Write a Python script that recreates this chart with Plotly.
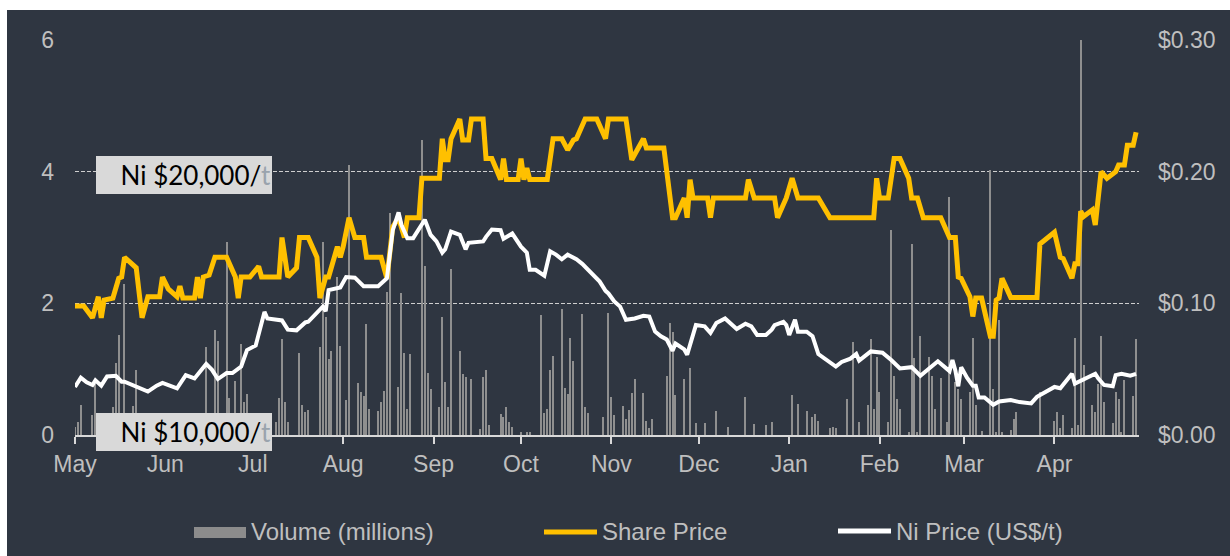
import plotly.graph_objects as go

# ---------------- data ----------------
month_ticks = ["2019-05-01", "2019-06-01", "2019-07-01", "2019-08-01", "2019-09-01", "2019-10-01",
               "2019-11-01", "2019-12-01", "2020-01-01", "2020-02-01", "2020-03-01", "2020-04-01"]
month_labels = ["May", "Jun", "Jul", "Aug", "Sep", "Oct", "Nov", "Dec", "Jan", "Feb", "Mar", "Apr"]
left_ticks = [0, 2, 4, 6]
right_ticks = [0.0, 0.1, 0.2, 0.3]
right_labels = ["$0.00", "$0.10", "$0.20", "$0.30"]

share_dates = [
    "2019-05-01", "2019-05-04", "2019-05-07", "2019-05-09", "2019-05-10", "2019-05-11", "2019-05-14",
    "2019-05-16", "2019-05-17", "2019-05-18", "2019-05-22", "2019-05-23", "2019-05-24", "2019-05-26",
    "2019-05-30", "2019-05-31", "2019-06-02", "2019-06-05", "2019-06-06", "2019-06-07", "2019-06-11",
    "2019-06-12", "2019-06-13", "2019-06-14", "2019-06-16", "2019-06-18", "2019-06-22", "2019-06-25",
    "2019-06-26", "2019-06-27", "2019-06-30", "2019-07-03", "2019-07-04", "2019-07-10", "2019-07-11",
    "2019-07-13", "2019-07-16", "2019-07-17", "2019-07-20", "2019-07-23", "2019-07-24", "2019-07-26",
    "2019-07-27", "2019-07-30", "2019-07-31", "2019-08-01", "2019-08-03", "2019-08-05", "2019-08-08",
    "2019-08-09", "2019-08-14", "2019-08-16", "2019-08-18", "2019-08-20", "2019-08-22", "2019-08-23",
    "2019-08-27", "2019-08-28", "2019-09-03", "2019-09-04", "2019-09-05", "2019-09-06", "2019-09-07",
    "2019-09-08", "2019-09-10", "2019-09-11", "2019-09-13", "2019-09-14", "2019-09-18", "2019-09-19",
    "2019-09-21", "2019-09-24", "2019-09-25", "2019-09-26", "2019-09-30", "2019-10-01", "2019-10-02",
    "2019-10-03", "2019-10-04", "2019-10-10", "2019-10-12", "2019-10-15", "2019-10-17", "2019-10-19",
    "2019-10-20", "2019-10-23", "2019-10-27", "2019-10-30", "2019-10-31", "2019-11-06", "2019-11-08",
    "2019-11-12", "2019-11-13", "2019-11-19", "2019-11-22", "2019-11-23", "2019-11-26", "2019-11-27",
    "2019-11-28", "2019-11-29", "2019-12-04", "2019-12-05", "2019-12-06", "2019-12-17", "2019-12-18",
    "2019-12-20", "2019-12-27", "2019-12-28", "2019-12-31", "2020-01-02", "2020-01-04", "2020-01-11",
    "2020-01-15", "2020-01-30", "2020-01-31", "2020-02-01", "2020-02-04", "2020-02-06", "2020-02-08",
    "2020-02-11", "2020-02-12", "2020-02-14", "2020-02-16", "2020-02-22", "2020-02-25", "2020-02-27",
    "2020-02-28", "2020-02-29", "2020-03-03", "2020-03-04", "2020-03-05", "2020-03-07", "2020-03-10",
    "2020-03-11", "2020-03-12", "2020-03-13", "2020-03-14", "2020-03-17", "2020-03-26", "2020-03-27",
    "2020-04-01", "2020-04-03", "2020-04-04", "2020-04-07", "2020-04-08", "2020-04-09", "2020-04-10",
    "2020-04-11", "2020-04-14", "2020-04-15", "2020-04-17", "2020-04-19", "2020-04-22", "2020-04-23",
    "2020-04-25", "2020-04-26", "2020-04-28", "2020-04-29"]
share_price = [
    0.098, 0.098, 0.089, 0.105, 0.089, 0.1025, 0.104,
    0.119, 0.120, 0.135, 0.127, 0.104, 0.089, 0.105,
    0.105, 0.120, 0.111, 0.105, 0.113, 0.104, 0.104,
    0.120, 0.104, 0.120, 0.1215, 0.135, 0.135, 0.120,
    0.104, 0.120, 0.120, 0.128, 0.120, 0.120, 0.150,
    0.120, 0.127, 0.150, 0.150, 0.135, 0.104, 0.120,
    0.120, 0.143, 0.135, 0.143, 0.165, 0.150, 0.150,
    0.135, 0.135, 0.119, 0.158, 0.165, 0.150, 0.165,
    0.165, 0.195, 0.195, 0.225, 0.209, 0.209, 0.225,
    0.230, 0.240, 0.224, 0.224, 0.240, 0.240, 0.210,
    0.210, 0.194, 0.210, 0.194, 0.194, 0.210, 0.194,
    0.2026, 0.194, 0.194, 0.225, 0.225, 0.2165, 0.224,
    0.225, 0.240, 0.240, 0.225, 0.240, 0.240, 0.209,
    0.225, 0.218, 0.218, 0.165, 0.165, 0.180, 0.165,
    0.194, 0.180, 0.180, 0.165, 0.180, 0.180, 0.194,
    0.180, 0.180, 0.165, 0.180, 0.195, 0.180, 0.180,
    0.165, 0.165, 0.195, 0.180, 0.180, 0.210, 0.210,
    0.195, 0.180, 0.180, 0.165, 0.165, 0.150, 0.150,
    0.120, 0.119, 0.105, 0.090, 0.104, 0.104, 0.075,
    0.075, 0.1025, 0.104, 0.119, 0.1045, 0.1045, 0.145,
    0.154, 0.135, 0.134, 0.119, 0.130, 0.130, 0.170,
    0.166, 0.171, 0.1595, 0.200, 0.195, 0.200, 0.205,
    0.205, 0.220, 0.220, 0.230]

ni_dates = [
    "2019-05-01", "2019-05-03", "2019-05-05", "2019-05-07", "2019-05-08", "2019-05-10", "2019-05-12",
    "2019-05-15", "2019-05-17", "2019-05-18", "2019-05-26", "2019-05-29", "2019-05-31", "2019-06-05",
    "2019-06-08", "2019-06-11", "2019-06-15", "2019-06-17", "2019-06-19", "2019-06-22", "2019-06-24",
    "2019-06-27", "2019-06-29", "2019-07-01", "2019-07-02", "2019-07-05", "2019-07-06", "2019-07-11",
    "2019-07-13", "2019-07-16", "2019-07-19", "2019-07-20", "2019-07-22", "2019-07-25", "2019-07-26",
    "2019-07-27", "2019-07-31", "2019-08-02", "2019-08-05", "2019-08-08", "2019-08-13", "2019-08-16",
    "2019-08-18", "2019-08-20", "2019-08-21", "2019-08-23", "2019-08-25", "2019-08-29", "2019-08-31",
    "2019-09-02", "2019-09-04", "2019-09-05", "2019-09-07", "2019-09-10", "2019-09-12", "2019-09-13",
    "2019-09-18", "2019-09-19", "2019-09-21", "2019-09-24", "2019-09-25", "2019-09-28", "2019-10-01",
    "2019-10-03", "2019-10-04", "2019-10-06", "2019-10-09", "2019-10-11", "2019-10-13", "2019-10-15",
    "2019-10-17", "2019-10-20", "2019-10-22", "2019-10-24", "2019-10-25", "2019-10-28", "2019-10-30",
    "2019-10-31", "2019-11-02", "2019-11-04", "2019-11-06", "2019-11-09", "2019-11-12", "2019-11-14",
    "2019-11-16", "2019-11-18", "2019-11-20", "2019-11-22", "2019-11-23", "2019-11-26", "2019-11-27",
    "2019-11-29", "2019-11-30", "2019-12-03", "2019-12-05", "2019-12-07", "2019-12-10", "2019-12-14",
    "2019-12-17", "2019-12-19", "2019-12-21", "2019-12-24", "2019-12-26", "2019-12-27", "2019-12-30",
    "2019-12-31", "2020-01-01", "2020-01-03", "2020-01-04", "2020-01-07", "2020-01-09", "2020-01-11",
    "2020-01-15", "2020-01-17", "2020-01-19", "2020-01-22", "2020-01-24", "2020-01-25", "2020-01-29",
    "2020-02-02", "2020-02-05", "2020-02-08", "2020-02-12", "2020-02-13", "2020-02-15", "2020-02-18",
    "2020-02-21", "2020-02-25", "2020-02-26", "2020-02-27", "2020-02-28", "2020-02-29", "2020-03-02",
    "2020-03-04", "2020-03-05", "2020-03-06", "2020-03-08", "2020-03-11", "2020-03-13", "2020-03-17",
    "2020-03-20", "2020-03-24", "2020-03-26", "2020-03-28", "2020-04-01", "2020-04-03", "2020-04-05",
    "2020-04-07", "2020-04-08", "2020-04-11", "2020-04-15", "2020-04-16", "2020-04-18", "2020-04-21",
    "2020-04-22", "2020-04-24", "2020-04-27", "2020-04-29"]
ni_price = [
    11825, 12175, 12000, 11900, 12075, 11875, 12225,
    12250, 12025, 12025, 11650, 11875, 11975, 11775,
    12275, 12150, 12700, 12475, 12125, 12350, 12350,
    12600, 13225, 13350, 13400, 14675, 14425, 14350,
    14000, 13975, 14275, 14300, 14550, 14875, 14700,
    15500, 15600, 16000, 15975, 15650, 15650, 15950,
    17775, 18450, 17975, 17475, 17475, 18175, 17600,
    17350, 16925, 17050, 17725, 17600, 17050, 17300,
    17350, 17525, 17800, 17775, 17450, 17650, 17150,
    16925, 16275, 16275, 16050, 16975, 16850, 16675,
    16850, 16675, 16500, 16275, 16200, 15825, 15475,
    15375, 15075, 14875, 14375, 14425, 14525, 14500,
    13925, 13750, 13625, 13200, 13475, 13250, 13050,
    13750, 14175, 14125, 13875, 14250, 14425, 14025,
    14225, 14125, 13800, 13800, 14000, 14175, 14300,
    14175, 13800, 14375, 13925, 13925, 13750, 13075,
    12775, 12600, 12775, 12900, 13075, 12825, 13175,
    13125, 12850, 12525, 12575, 12450, 12250, 12525,
    12800, 12425, 12850, 12450, 11850, 12575, 12175,
    11875, 11875, 11425, 11425, 11150, 11275, 11325,
    11250, 11200, 11450, 11575, 11825, 11775, 12025,
    12325, 11950, 12100, 12325, 12150, 11900, 11850,
    12275, 12325, 12250, 12325]

vol_dates = [
    "2019-05-01", "2019-05-02", "2019-05-03", "2019-05-07", "2019-05-08", "2019-05-09", "2019-05-14",
    "2019-05-15", "2019-05-16", "2019-05-18", "2019-05-20", "2019-05-21", "2019-05-22", "2019-05-23",
    "2019-05-24", "2019-05-28", "2019-05-29", "2019-05-31", "2019-06-03", "2019-06-04", "2019-06-06",
    "2019-06-10", "2019-06-12", "2019-06-15", "2019-06-18", "2019-06-19", "2019-06-22", "2019-06-23",
    "2019-06-25", "2019-06-27", "2019-06-28", "2019-06-29", "2019-07-03", "2019-07-05", "2019-07-09",
    "2019-07-10", "2019-07-11", "2019-07-12", "2019-07-13", "2019-07-17", "2019-07-18", "2019-07-19",
    "2019-07-20", "2019-07-24", "2019-07-25", "2019-07-26", "2019-07-27", "2019-07-28", "2019-07-30",
    "2019-07-31", "2019-08-02", "2019-08-03", "2019-08-06", "2019-08-07", "2019-08-08", "2019-08-09",
    "2019-08-10", "2019-08-13", "2019-08-14", "2019-08-15", "2019-08-16", "2019-08-17", "2019-08-20",
    "2019-08-21", "2019-08-22", "2019-08-23", "2019-08-24", "2019-08-28", "2019-08-29", "2019-08-30",
    "2019-08-31", "2019-09-03", "2019-09-04", "2019-09-05", "2019-09-06", "2019-09-07", "2019-09-10",
    "2019-09-11", "2019-09-12", "2019-09-14", "2019-09-17", "2019-09-18", "2019-09-19", "2019-09-20",
    "2019-09-24", "2019-09-25", "2019-09-26", "2019-09-27", "2019-09-28", "2019-10-01", "2019-10-03",
    "2019-10-04", "2019-10-08", "2019-10-09", "2019-10-10", "2019-10-11", "2019-10-12", "2019-10-15",
    "2019-10-16", "2019-10-17", "2019-10-18", "2019-10-19", "2019-10-22", "2019-10-23", "2019-10-24",
    "2019-10-29", "2019-10-31", "2019-11-01", "2019-11-02", "2019-11-05", "2019-11-06", "2019-11-07",
    "2019-11-08", "2019-11-09", "2019-11-12", "2019-11-13", "2019-11-14", "2019-11-15", "2019-11-20",
    "2019-11-21", "2019-11-22", "2019-11-23", "2019-11-26", "2019-11-28", "2019-11-30", "2019-12-03",
    "2019-12-07", "2019-12-11", "2019-12-17", "2019-12-20", "2019-12-24", "2019-12-26", "2020-01-02",
    "2020-01-04", "2020-01-07", "2020-01-09", "2020-01-10", "2020-01-11", "2020-01-15", "2020-01-16",
    "2020-01-17", "2020-01-21", "2020-01-23", "2020-01-25", "2020-01-28", "2020-01-29", "2020-01-30",
    "2020-01-31", "2020-02-01", "2020-02-04", "2020-02-05", "2020-02-06", "2020-02-07", "2020-02-08",
    "2020-02-11", "2020-02-12", "2020-02-13", "2020-02-14", "2020-02-15", "2020-02-18", "2020-02-19",
    "2020-02-20", "2020-02-22", "2020-02-24", "2020-02-25", "2020-02-27", "2020-02-28", "2020-02-29",
    "2020-03-03", "2020-03-04", "2020-03-05", "2020-03-07", "2020-03-10", "2020-03-11", "2020-03-12",
    "2020-03-13", "2020-03-14", "2020-03-17", "2020-03-18", "2020-03-19", "2020-03-27", "2020-04-01",
    "2020-04-02", "2020-04-03", "2020-04-04", "2020-04-07", "2020-04-08", "2020-04-09", "2020-04-10",
    "2020-04-11", "2020-04-14", "2020-04-15", "2020-04-16", "2020-04-17", "2020-04-18", "2020-04-21",
    "2020-04-22", "2020-04-23", "2020-04-24", "2020-04-25", "2020-04-28", "2020-04-29"]
vol_millions = [
    0.12, 0.20, 0.46, 0.30, 0.77, 0.12, 0.43,
    1.09, 1.52, 2.30, 0.30, 0.44, 0.99, 0.30,
    0.27, 0.20, 0.15, 0.25, 0.12, 0.20, 0.15,
    0.20, 0.10, 1.34, 1.60, 1.43, 2.93, 0.56,
    0.82, 1.38, 0.50, 0.63, 0.15, 0.10, 0.20,
    0.56, 1.46, 0.50, 0.20, 1.24, 0.46, 0.35,
    0.38, 1.34, 2.93, 1.80, 1.16, 1.27, 2.40,
    1.35, 0.53, 4.10, 0.79, 0.65, 0.60, 1.69,
    0.40, 0.37, 0.50, 0.67, 2.17, 3.37, 0.73,
    2.16, 1.25, 0.40, 1.23, 4.48, 2.56, 0.94,
    0.70, 0.42, 1.79, 0.80, 0.43, 2.52, 1.28,
    0.92, 0.88, 0.85, 0.09, 0.88, 0.99, 0.15,
    0.32, 0.27, 0.42, 0.20, 0.12, 0.05, 0.05,
    0.04, 1.82, 0.34, 0.40, 0.98, 1.20, 1.91,
    0.71, 0.63, 1.47, 1.13, 1.84, 0.43, 0.33,
    0.27, 1.85, 0.57, 0.30, 0.44, 0.25, 0.38,
    0.64, 0.85, 0.64, 0.22, 0.10, 0.25, 0.90,
    1.70, 1.56, 0.61, 0.85, 1.02, 0.18, 0.18,
    0.37, 0.12, 0.58, 0.17, 0.15, 0.20, 0.61,
    0.47, 0.37, 0.28, 0.32, 0.22, 0.10, 0.12,
    0.10, 0.55, 1.41, 0.20, 0.45, 1.46, 0.40,
    1.19, 0.66, 0.20, 3.12, 0.90, 0.55, 0.40,
    0.05, 2.90, 1.17, 0.05, 1.50, 1.18, 0.90,
    0.40, 0.86, 0.20, 3.62, 0.80, 0.70, 0.55,
    0.65, 1.47, 0.45, 0.06, 4.03, 0.70, 0.05,
    1.75, 0.05, 0.07, 0.25, 0.35, 0.66, 0.22,
    0.35, 0.10, 0.30, 0.10, 1.47, 0.15, 6.00,
    1.06, 0.45, 0.35, 0.78, 1.50, 0.50, 0.18,
    0.66, 0.55, 0.05, 0.83, 0.60, 1.46]

legend_labels = ["Volume (millions)", "Share Price", "Ni Price (US$/t)"]
ni_box_labels = ["Ni $20,000/", "Ni $10,000/"]

# ---------------- style ----------------
BG = "#2f3641"
TXT = "#bfbfbf"
GOLD = "#FFC000"
FONT = "Liberation Sans, Arial, sans-serif"
W, H = 1230, 556
ML, MR, MT, MB = 75, 91, 40, 121
PW, PH = W - ML - MR, H - MT - MB


def px(xp):
    return (xp - ML) / PW


def py(yp):
    return (H - MB - yp) / PH


fig = go.Figure()
fig.add_trace(go.Bar(x=vol_dates, y=vol_millions, yaxis="y", name=legend_labels[0],
                     marker=dict(color="#8f8f8f", line=dict(width=0)),
                     width=0.4 * 86400000, showlegend=False))
fig.add_trace(go.Scatter(x=share_dates, y=share_price, yaxis="y2", mode="lines", name=legend_labels[1],
                         line=dict(color=GOLD, width=5), showlegend=False))
fig.add_trace(go.Scatter(x=ni_dates, y=ni_price, yaxis="y3", mode="lines", name=legend_labels[2],
                         line=dict(color="white", width=4), showlegend=False))

shapes = [
    # white border strips of the original image
    dict(type="rect", xref="paper", yref="paper", x0=px(0), x1=px(7), y0=py(H), y1=py(0),
         fillcolor="white", line=dict(width=0), layer="above"),
    dict(type="rect", xref="paper", yref="paper", x0=px(0), x1=px(W), y0=py(10), y1=py(0),
         fillcolor="white", line=dict(width=0), layer="above"),
    # legend swatches
    dict(type="rect", xref="paper", yref="paper", x0=px(194), x1=px(246), y0=py(538), y1=py(527),
         fillcolor="#8c8c8c", line=dict(width=0)),
    dict(type="line", xref="paper", yref="paper", x0=px(544), x1=px(597), y0=py(532), y1=py(532),
         line=dict(color=GOLD, width=5)),
    dict(type="line", xref="paper", yref="paper", x0=px(838), x1=px(891), y0=py(531), y1=py(531),
         line=dict(color="white", width=5)),
]

annotations = []
for lab, xpos in zip(legend_labels, [249, 600, 894]):
    annotations.append(dict(xref="paper", yref="paper", x=px(xpos), y=py(531), xanchor="left",
                            yanchor="middle", text=lab, showarrow=False,
                            font=dict(family=FONT, size=24, color=TXT)))
for lab, ycen in zip(ni_box_labels, [175, 432]):
    annotations.append(dict(xref="paper", yref="paper", x=px(96), y=py(ycen), xanchor="left",
                            yanchor="middle", showarrow=False,
                            text=lab + "<span style='color:#9aa3ad'>t</span>",
                            font=dict(family="Lato, Noto Sans, sans-serif", size=26, color="black"),
                            bgcolor="#d9d9d9", width=174, height=36, borderpad=1, borderwidth=0,
                            align="right"))

fig.update_layout(
    width=W, height=H, autosize=False,
    margin=dict(l=ML, r=MR, t=MT, b=MB, pad=0),
    paper_bgcolor=BG, plot_bgcolor=BG,
    bargap=0, showlegend=False,
    shapes=shapes, annotations=annotations,
    xaxis=dict(type="date", range=["2019-05-01", "2020-04-30"], tickmode="array",
               tickvals=month_ticks, ticktext=month_labels, ticks="outside", ticklen=7, tickwidth=2,
               tickcolor="#d9d9d9", showline=True, linecolor="#d9d9d9", linewidth=2,
               showgrid=False, zeroline=False, ticklabelstandoff=0,
               tickfont=dict(family=FONT, size=23, color=TXT)),
    yaxis=dict(range=[0, 6], tickmode="array", tickvals=left_ticks, showgrid=True,
               gridcolor="#cfcfcf", gridwidth=1, griddash="4px,2px", zeroline=False,
               showline=False, ticks="", ticklabelstandoff=20,
               tickfont=dict(family=FONT, size=23, color=TXT)),
    yaxis2=dict(range=[0, 0.3], overlaying="y", side="right", tickmode="array",
                tickvals=right_ticks, ticktext=right_labels, showgrid=False, zeroline=False,
                showline=False, ticks="", ticklabelstandoff=18,
                tickfont=dict(family=FONT, size=23, color=TXT)),
    yaxis3=dict(range=[10000, 25000], overlaying="y", visible=False),
)

fig.write_html("out.html", config={"displayModeBar": False},
               post_script="document.body.style.margin='0';document.body.style.overflow='hidden';")
